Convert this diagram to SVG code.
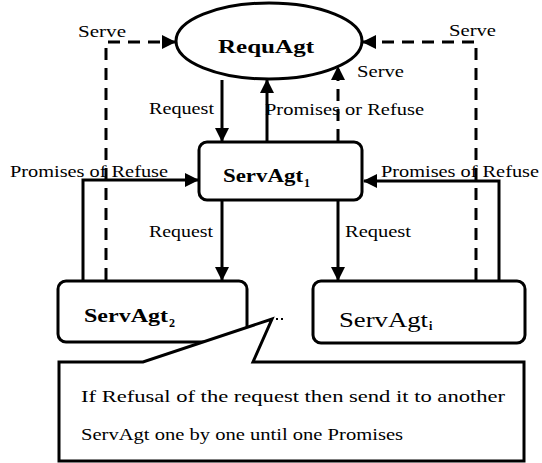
<svg xmlns="http://www.w3.org/2000/svg" width="542" height="463" viewBox="0 0 542 463">
<style>
text{font-family:"Liberation Serif","Times New Roman",serif;fill:#000}
.lbl{font-size:17px}
.nb{font-size:19px;font-weight:bold}
.sub{font-size:12px;font-weight:bold}
.shape{fill:#fff;stroke:#000;stroke-width:3}
.c{fill:none;stroke:#000;stroke-width:3}
.d{fill:none;stroke:#000;stroke-width:3;stroke-dasharray:12 8}
</style>
<defs>
<marker id="ah" markerUnits="userSpaceOnUse" markerWidth="16" markerHeight="16" refX="13" refY="7" orient="auto">
<path d="M0,0 L14,7 L0,14 Z" fill="#000" stroke="none"/>
</marker>
</defs>
<rect width="542" height="463" fill="#fff"/>
<g id="connectors">
<line class="c" x1="222" y1="80" x2="222" y2="141" marker-end="url(#ah)"/>
<line class="c" x1="267" y1="141" x2="267" y2="80" marker-end="url(#ah)"/>
<line class="d" x1="338" y1="141" x2="338" y2="67" marker-end="url(#ah)"/>
<polyline class="d" points="106,280 106,42 175,42" marker-end="url(#ah)"/>
<polyline class="d" points="476,280 476,42 363,42" marker-end="url(#ah)"/>
<polyline class="c" points="83,281 83,180 198,180" marker-end="url(#ah)"/>
<polyline class="c" points="499,281 499,181 364,181" marker-end="url(#ah)"/>
<line class="c" x1="222" y1="200" x2="222" y2="280" marker-end="url(#ah)"/>
<line class="c" x1="338" y1="200" x2="338" y2="280" marker-end="url(#ah)"/>
<text class="lbl" x="78" y="37" textLength="48" lengthAdjust="spacingAndGlyphs">Serve</text>
<text class="lbl" x="449" y="36" textLength="47" lengthAdjust="spacingAndGlyphs">Serve</text>
<text class="lbl" x="357" y="77" textLength="47" lengthAdjust="spacingAndGlyphs">Serve</text>
<text class="lbl" x="149" y="114" textLength="65" lengthAdjust="spacingAndGlyphs">Request</text>
<text class="lbl" x="265" y="115" textLength="159" lengthAdjust="spacingAndGlyphs">Promises or Refuse</text>
<text class="lbl" x="10" y="177" textLength="158" lengthAdjust="spacingAndGlyphs">Promises of Refuse</text>
<text class="lbl" x="381" y="177" textLength="158" lengthAdjust="spacingAndGlyphs">Promises of Refuse</text>
<text class="lbl" x="149" y="237" textLength="64" lengthAdjust="spacingAndGlyphs">Request</text>
<text class="lbl" x="345" y="237" textLength="66" lengthAdjust="spacingAndGlyphs">Request</text>
</g>
<g id="RequAgt">
<ellipse class="shape" cx="269" cy="41" rx="93" ry="38"/>
<text class="nb" x="218" y="53" textLength="96" lengthAdjust="spacingAndGlyphs">RequAgt</text>
</g>
<g id="ServAgt1">
<rect class="shape" x="199" y="142" width="163" height="58" rx="8"/>
<text class="nb" x="223" y="182" textLength="80" lengthAdjust="spacingAndGlyphs">ServAgt</text>
<text class="sub" x="304" y="187">1</text>
</g>
<g id="ServAgt2">
<rect class="shape" x="58" y="281" width="189" height="61" rx="8"/>
<text class="nb" x="84" y="322" textLength="84" lengthAdjust="spacingAndGlyphs">ServAgt</text>
<text class="sub" x="169" y="327">2</text>
</g>
<g id="ServAgti">
<rect class="shape" x="313" y="281" width="212" height="62" rx="8"/>
<text x="339" y="327" font-size="22" textLength="89" lengthAdjust="spacingAndGlyphs">ServAgt</text>
<text class="sub" x="429" y="330" font-size="14">i</text>
</g>
<g id="callout">
<path class="shape" d="M59,362 L143,362 L272,319 L253,362 L524,362 L524,461 L59,461 Z" stroke-linejoin="miter"/>
<rect x="276" y="318" width="2" height="2" fill="#000"/>
<rect x="281" y="318" width="2" height="2" fill="#000"/>
<text x="81" y="402" font-size="16" textLength="424" lengthAdjust="spacingAndGlyphs">If Refusal of the request then send it to another</text>
<text x="81" y="440" font-size="16" textLength="322" lengthAdjust="spacingAndGlyphs">ServAgt one by one until one Promises</text>
</g>
</svg>
